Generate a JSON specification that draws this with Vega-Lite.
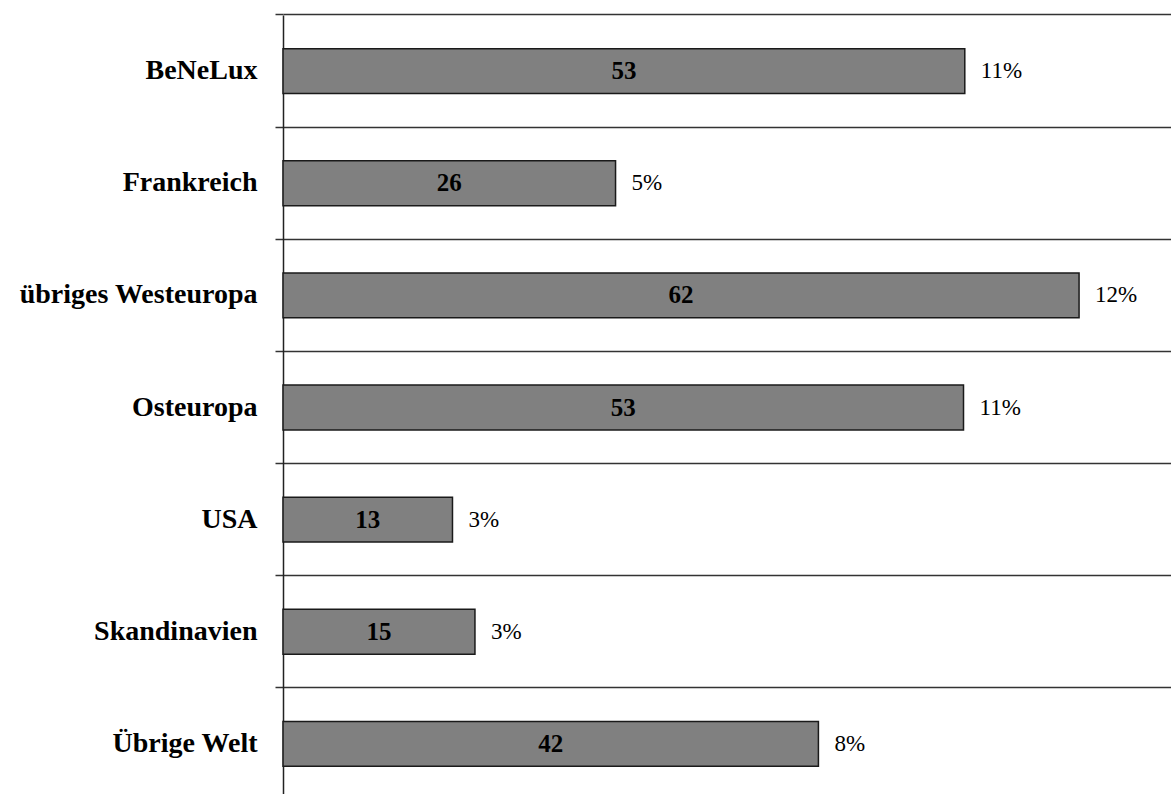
{
  "$schema": "https://vega.github.io/schema/vega-lite/v6.json",
  "autosize": "none",
  "width": 888,
  "height": 785,
  "padding": {"left": 283, "top": 15, "right": 0, "bottom": 0},
  "background": "white",
  "config": {"view": {"stroke": null}},
  "data": {
    "values": [
      {"region": "BeNeLux", "wert": 53.1, "anteil": "11%"},
      {"region": "Frankreich", "wert": 25.9, "anteil": "5%"},
      {"region": "übriges Westeuropa", "wert": 62, "anteil": "12%"},
      {"region": "Osteuropa", "wert": 53, "anteil": "11%"},
      {"region": "USA", "wert": 13.2, "anteil": "3%"},
      {"region": "Skandinavien", "wert": 14.95, "anteil": "3%"},
      {"region": "Übrige Welt", "wert": 41.7, "anteil": "8%"}
    ]
  },
  "encoding": {
    "y": {
      "field": "region",
      "type": "nominal",
      "sort": null,
      "scale": {"paddingInner": 0.6, "paddingOuter": 0.3},
      "axis": {
        "title": null,
        "bandPosition": -0.75,
        "grid": true,
        "gridColor": "#333333",
        "gridWidth": 1.5,
        "ticks": true,
        "tickSize": 8,
        "tickColor": "#333333",
        "tickWidth": 1.5,
        "domain": true,
        "domainColor": "#222222",
        "domainWidth": 1.5,
        "labelFont": "Liberation Serif",
        "labelFontWeight": "bold",
        "labelFontSize": 28,
        "labelColor": "black",
        "labelPadding": 18,
        "labelLimit": 400
      }
    }
  },
  "layer": [
    {
      "mark": {"type": "bar", "fill": "#808080", "stroke": "#1a1a1a", "strokeWidth": 1.5},
      "encoding": {
        "x": {"field": "wert", "type": "quantitative", "scale": {"domain": [0, 69.16], "nice": false}, "axis": null}
      }
    },
    {
      "mark": {"type": "text", "font": "Liberation Serif", "fontWeight": "bold", "fontSize": 25, "color": "black", "align": "center", "baseline": "middle"},
      "encoding": {
        "x": {"field": "wert", "type": "quantitative", "scale": {"domain": [0, 138.32], "nice": false}, "axis": null},
        "text": {"field": "wert", "type": "quantitative", "format": ".0f"}
      }
    },
    {
      "mark": {"type": "text", "font": "Liberation Serif", "fontSize": 23, "color": "black", "align": "left", "baseline": "middle", "dx": 16},
      "encoding": {
        "x": {"field": "wert", "type": "quantitative", "scale": {"domain": [0, 69.16], "nice": false}, "axis": null},
        "text": {"field": "anteil", "type": "nominal"}
      }
    }
  ],
  "resolve": {"scale": {"x": "independent"}}
}
